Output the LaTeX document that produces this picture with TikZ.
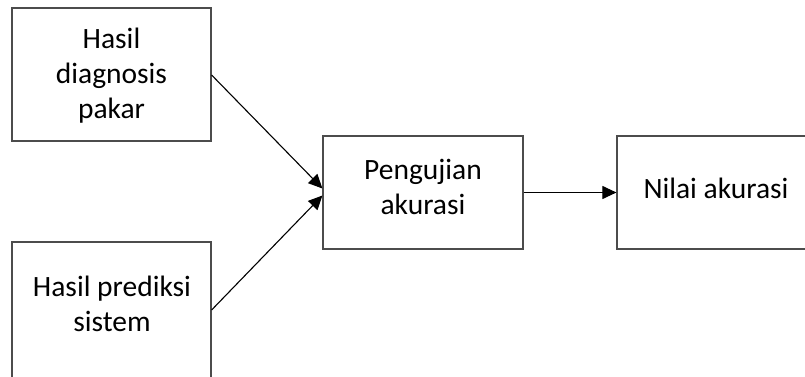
\documentclass[tikz,border=0pt]{standalone}
\usepackage{fontspec}
\setmainfont{Carlito}
\usetikzlibrary{arrows.meta}
\begin{document}
\begin{tikzpicture}[x=1pt,y=-1pt,
  box/.style={draw=black!70,line width=1.2pt,rectangle,inner sep=0pt},
  txt/.style={align=center,inner sep=0pt,font=\fontsize{29.5}{35}\selectfont},
  arr/.style={draw=black,line width=1.1pt,-{Triangle[length=14pt,width=13pt]}}]
\useasboundingbox (0,0) rectangle (805,377);
\node[box,minimum width=199pt,minimum height=133pt] (b1) at (111.5,74.5) {};
\node[box,minimum width=199pt,minimum height=160pt] (b2) at (111.5,322) {};
\node[box,minimum width=200pt,minimum height=113pt] (b3) at (523-100,192.5) {};
\node[box,minimum width=200pt,minimum height=113pt] (b4) at (717,192.5) {};
\node[txt] (t1) at (111.5,76) {Hasil\\diagnosis\\pakar};
\node[txt] (t2) at (112,304) {Hasil prediksi\\sistem};
\node[txt] (t3) at (423,187) {Pengujian\\akurasi};
\node[txt] (t4) at (716,188) {Nilai akurasi};
\draw[arr] (b1.east |- 0,75) -- ([yshift=4pt]b3.west);
\draw[arr] (b2.east |- 0,310) -- ([yshift=-3pt]b3.west);
\draw[arr] (b3.east) -- (b4.west);
\end{tikzpicture}
\end{document}
